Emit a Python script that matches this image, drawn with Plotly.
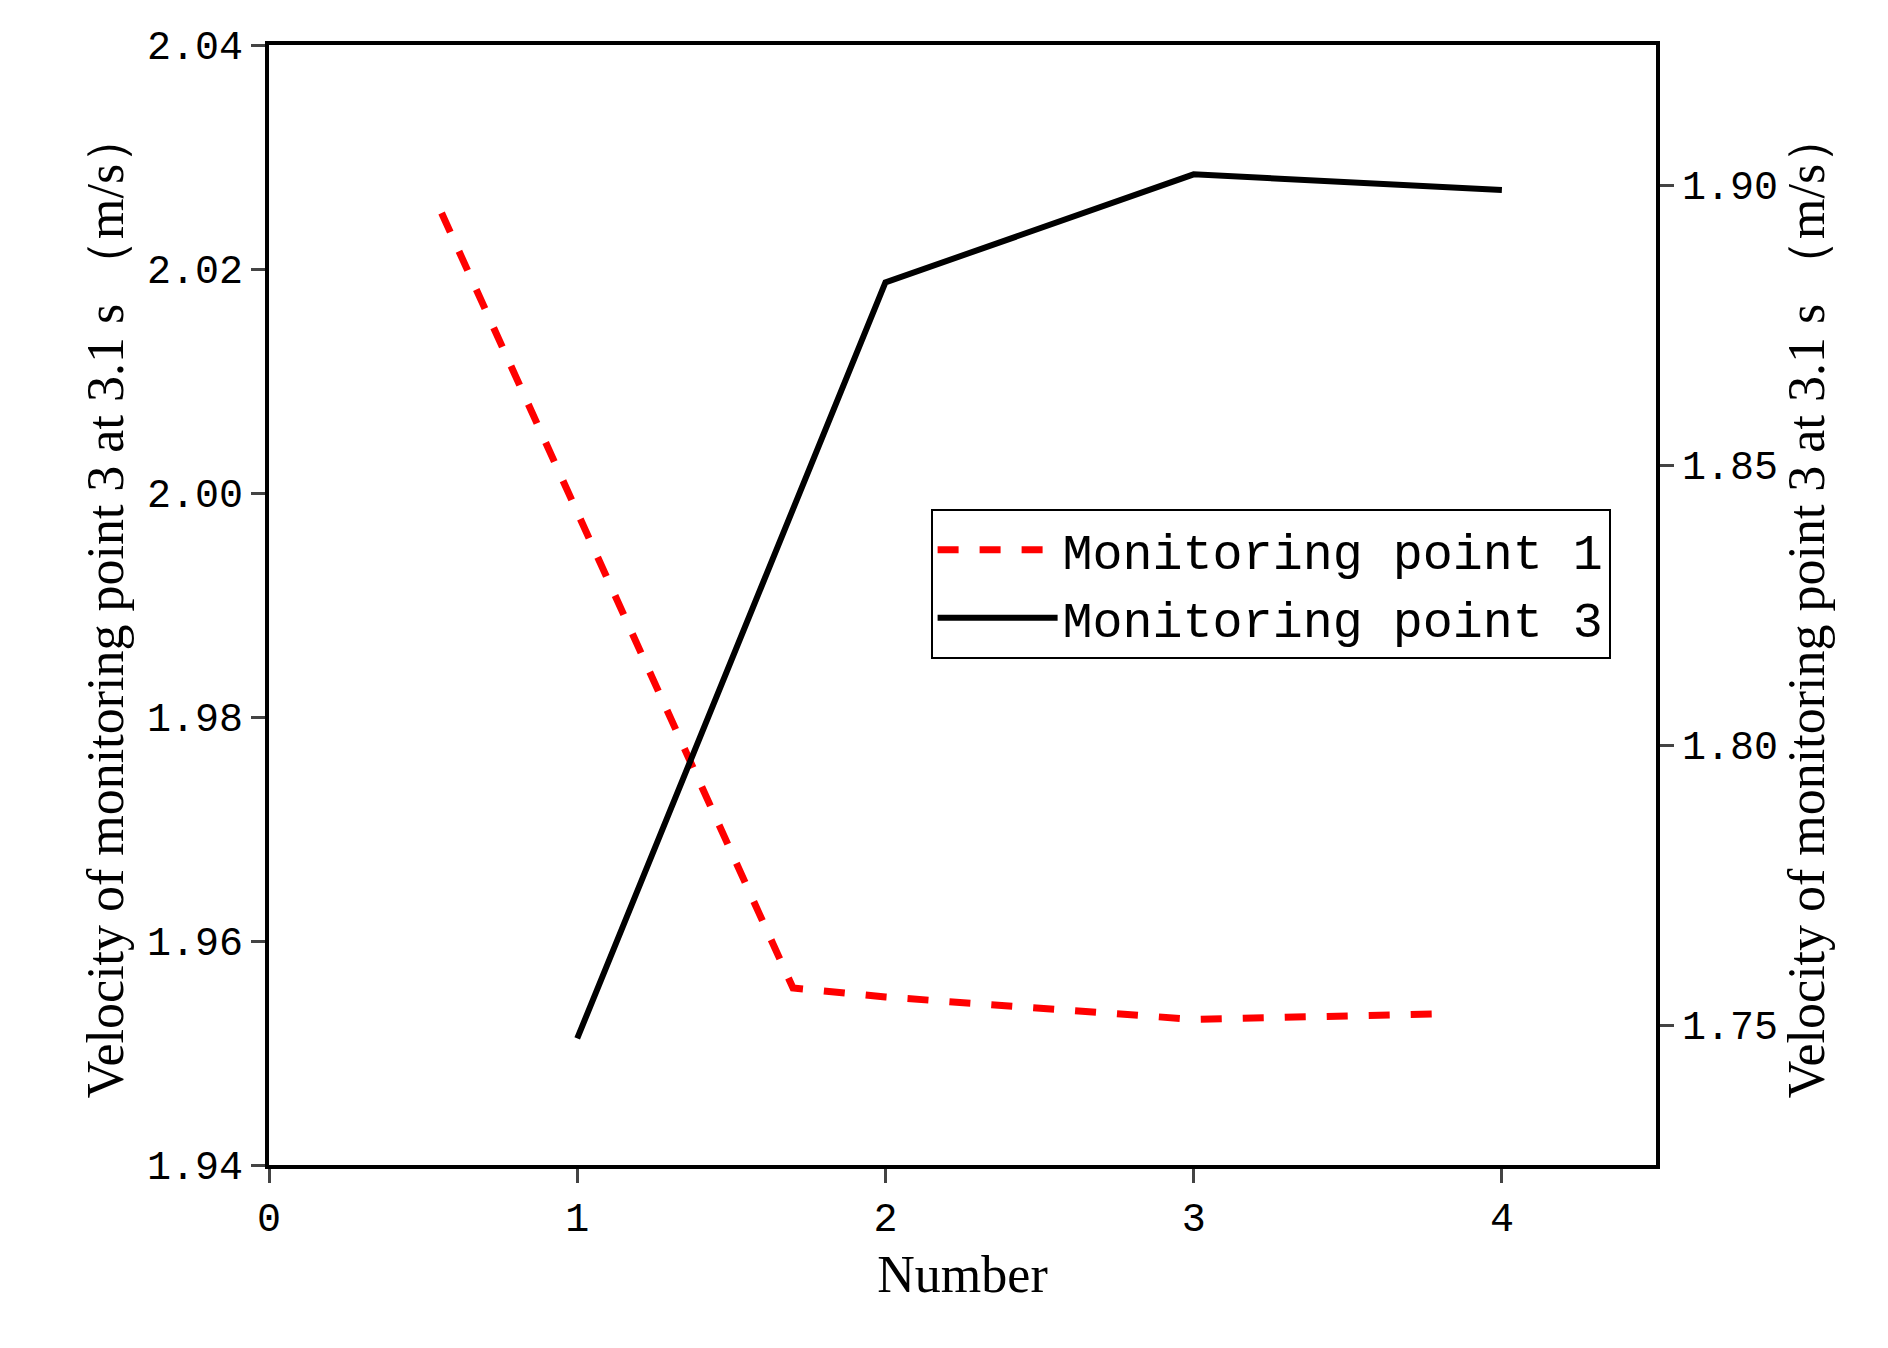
import plotly.graph_objects as go

x1 = [0.56, 1.7, 2, 3, 3.8]
y1 = [2.025, 1.9558, 1.955, 1.953, 1.9535]
x3 = [1, 2, 3, 4]
y3 = [1.7476, 1.8826, 1.9019, 1.8991]

fig = go.Figure()
fig.add_trace(go.Scatter(x=x1, y=y1, mode="lines", name="Monitoring point 1",
                         line=dict(color="#ff0000", width=7, dash="dash")))
fig.add_trace(go.Scatter(x=x3, y=y3, mode="lines", name="Monitoring point 3", yaxis="y2",
                         line=dict(color="black", width=6)))

tick = dict(family="Liberation Mono", size=40, color="black")
ttl = dict(family="Liberation Serif", size=52, color="black")
ax = dict(showgrid=False, zeroline=False, showline=True, linecolor="black", linewidth=4,
          ticks="outside", ticklen=14, tickwidth=3, tickfont=tick, mirror=False)
fig.update_layout(
    width=1888, height=1348, paper_bgcolor="white", plot_bgcolor="white",
    margin=dict(l=261, r=240, t=37, b=191),
    xaxis=dict(**ax, range=[0, 4.5], tickvals=[0, 1, 2, 3, 4],
               title=dict(text="Number", font=ttl, standoff=15)),
    yaxis=dict(**ax, range=[1.94, 2.04], tickvals=[1.94, 1.96, 1.98, 2.00, 2.02, 2.04],
               tickformat=".2f",
               title=dict(text="Velocity of monitoring point 3 at 3.1 s （m/s）", font=ttl, standoff=8)),
    yaxis2=dict(**ax, overlaying="y", side="right", range=[1.725, 1.925],
                tickvals=[1.75, 1.80, 1.85, 1.90], tickformat=".2f",
                title=dict(text="Velocity of monitoring point 3 at 3.1 s （m/s）", font=ttl, standoff=8)),
    legend=dict(x=0.477, y=0.586, xanchor="left", yanchor="top", bgcolor="white",
                bordercolor="black", borderwidth=2, itemwidth=120,
                font=dict(family="Liberation Mono", size=50, color="black")),
    showlegend=True,
)
fig.update_xaxes(mirror=True)
fig.write_html("out.html")
